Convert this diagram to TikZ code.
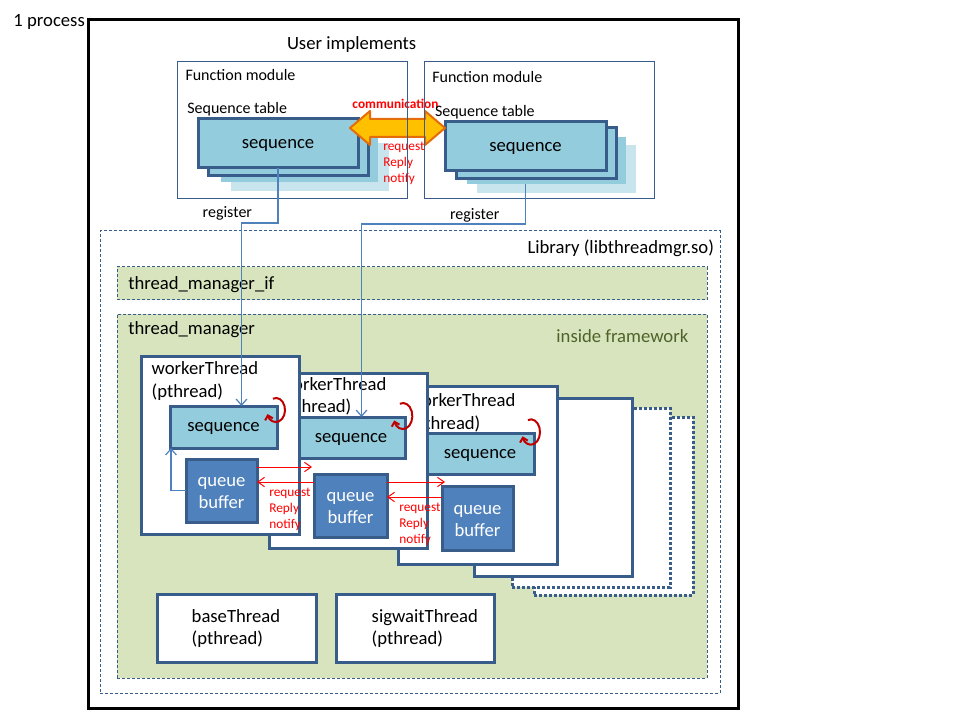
\documentclass[tikz,border=0pt]{standalone}
\usepackage{fontspec}
\setmainfont{Carlito}
\usetikzlibrary{arrows.meta,calc}
\definecolor{bd}{HTML}{385D8A}
\definecolor{seqfill}{HTML}{93CDDD}
\definecolor{seqlight}{HTML}{C8E5EE}
\definecolor{qbfill}{HTML}{4F81BD}
\definecolor{libgreen}{HTML}{D7E4BD}
\definecolor{linkblue}{HTML}{4F81BD}
\definecolor{olive}{HTML}{4F6228}
\definecolor{arrfill}{HTML}{FFC000}
\definecolor{arrdraw}{HTML}{E46C0A}
\definecolor{loopred}{HTML}{C00000}
\definecolor{msgred}{HTML}{FF0000}
\newcommand{\pxbox}[7]{\node[#2,anchor=north west,inner sep=0pt,outer sep=0pt,minimum width={(#5-#3)*0.75pt},minimum height={(#6-#4)*0.75pt}] (#1) at (#3,#4) {#7};}
\tikzset{
  f14/.style={font=\fontsize{14}{16.5}\selectfont},
  f12/.style={font=\fontsize{12}{14}\selectfont},
  f10/.style={font=\fontsize{10}{12}\selectfont},
  txt/.style={inner sep=0pt,outer sep=0pt},
  procbox/.style={draw=black,line width=2.25pt},
  fmbox/.style={draw=bd,line width=0.75pt},
  seqbox/.style={draw=bd,fill=seqfill,line width=2.25pt,f14,text height=10.5pt,text depth=3.5pt},
  seqmid/.style={fill=seqfill},
  seqlt/.style={fill=seqlight},
  libbox/.style={draw=bd,line width=0.75pt,dash pattern=on 2.25pt off 1.5pt},
  greenbox/.style={draw=bd,fill=libgreen,line width=0.75pt,dash pattern=on 2.25pt off 1.5pt},
  wtbox/.style={draw=bd,fill=white,line width=2.25pt},
  dotbox/.style={draw=bd,fill=white,line width=2.25pt,dash pattern=on 2.25pt off 1.5pt},
  qbox/.style={draw=bd,fill=qbfill,line width=2.25pt},
  qtext/.style={txt,f14,text=white,align=center,yshift=-2pt},
  reglink/.style={draw=linkblue,line width=0.9pt,-{Straight Barb[length=4.5pt,width=8pt]}},
  msg/.style={draw=msgred,line width=0.75pt,-{Straight Barb[length=5pt,width=7pt]}},
  msglbl/.style={txt,f10,text=msgred,anchor=base west},
  loopa/.style={draw=loopred,line width=1.5pt,-{Straight Barb[length=3pt,width=6pt]}},
  comm/.style={fill=arrfill,draw=arrdraw,line width=1.5pt,line join=round},
}
\begin{document}
\begin{tikzpicture}[x=0.75pt,y=-0.75pt]
\useasboundingbox (0,0) rectangle (960,720);

% process
\pxbox{proc}{procbox}{88}{20}{738}{708}{}
\node[txt,f14,anchor=base west] (tproc) at (13.5,26.5) {1 process};
\node[txt,f14,anchor=base west] (tuser) at (287,49.3) {User implements};

% Sequence stacks (left)
\pxbox{seqL4}{seqlt}{231}{143}{389}{191}{}
\pxbox{seqL3}{seqmid}{221}{137}{378}{182}{}
\pxbox{seqL2}{seqbox}{208}{128}{368}{176}{}
\pxbox{seqL1}{seqbox}{198}{119}{358}{168}{sequence}
% Sequence stacks (right)
\pxbox{seqR4}{seqlt}{477}{145}{636}{193}{}
\pxbox{seqR3}{seqmid}{467}{137}{626}{184}{}
\pxbox{seqR2}{seqbox}{456}{128}{616}{179}{}
\pxbox{seqR1}{seqbox}{445}{122}{606}{171}{sequence}

% communication arrow
\draw[comm] (350,128) -- (370,111) -- (370,119) -- (425,119) -- (425,111) -- (445,128)
  -- (425,145) -- (425,137) -- (370,137) -- (370,145) -- cycle;
\node[txt,font=\fontsize{10}{12}\selectfont\bfseries,text=msgred,anchor=base] (tcomm) at (395.5,108.8) {communication};
\node[msglbl] (c1) at (383.3,150.3) {request};
\node[msglbl] (c2) at (383.3,166.3) {Reply};
\node[msglbl] (c3) at (383.3,182.3) {notify};

% Function modules
\pxbox{fm1}{fmbox}{177}{62}{407}{199}{}
\pxbox{fm2}{fmbox}{424}{62}{654}{199}{}
\node[txt,f12,anchor=base west] (tfm1) at (185.5,80.5) {Function module};
\node[txt,f12,anchor=base west] (tfm2) at (432.3,82.2) {Function module};
\node[txt,f12,anchor=base west] (tst1) at (187.3,114) {Sequence table};
\node[txt,f12,anchor=base west] (tst2) at (435,116.7) {Sequence table};
\node[txt,f12,anchor=base west] (treg1) at (202.7,218) {register};
\node[txt,f12,anchor=base west] (treg2) at (450,219.7) {register};

% Library
\pxbox{lib}{libbox}{100}{231}{720}{693}{}
\node[txt,f14,anchor=base east] (tlib) at (714,254) {Library (libthreadmgr.so)};
\pxbox{tmif}{greenbox}{117}{267}{707}{300}{}
\node[txt,f14,anchor=base west] (ttmif) at (128.3,289.5) {thread\_manager\_if};
\pxbox{tm}{greenbox}{117}{314}{707}{678}{}
\node[txt,f14,anchor=base west] (ttm) at (128.3,334.5) {thread\_manager};
\node[txt,f14,anchor=base east,text=olive] (tinside) at (688.3,342) {inside framework};

% worker threads (back to front)
\pxbox{d2}{dotbox}{534}{417}{693}{595}{}
\pxbox{d1}{dotbox}{512}{408}{670}{587}{}
\pxbox{wt4}{wtbox}{474}{398}{632}{576}{}

\pxbox{wt3}{wtbox}{398}{386}{557}{564}{}
\node[txt,f14,anchor=base west] (wt3a) at (409,406.5) {workerThread};
\node[txt,f14,anchor=base west] (wt3b) at (409,429.8) {(pthread)};
\pxbox{wseq3}{seqbox}{426}{433}{534}{474}{sequence}
\pxbox{qb3}{qbox}{442}{486}{513}{550}{}
\node[qtext] (qt3) at (qb3.center) {queue\\buffer};

\pxbox{wt2}{wtbox}{269}{373}{427}{548}{}
\node[txt,f14,anchor=base west] (wt2a) at (280,390) {workerThread};
\node[txt,f14,anchor=base west] (wt2b) at (280,412.5) {(pthread)};
\pxbox{wseq2}{seqbox}{297}{417}{405}{458}{sequence}
\pxbox{qb2}{qbox}{314}{474}{387}{537}{}
\node[qtext] (qt2) at (qb2.center) {queue\\buffer};

\pxbox{wt1}{wtbox}{141}{356}{299}{534}{}
\node[txt,f14,anchor=base west] (wt1a) at (151.7,374.5) {workerThread};
\node[txt,f14,anchor=base west] (wt1b) at (151.7,397) {(pthread)};
\pxbox{wseq1}{seqbox}{170}{406}{277}{448}{sequence}
\pxbox{qb1}{qbox}{186}{459}{257}{522}{}
\node[qtext] (qt1) at (qb1.center) {queue\\buffer};

% self loops
\coordinate (lc1) at (276,410);
\coordinate (lc2) at (403,416);
\coordinate (lc3) at (531,432);
\draw[loopa] ([shift={(110:6.75pt and 9pt)}]lc1) arc[start angle=110,end angle=-160,x radius=6.75pt,y radius=9pt];
\draw[loopa] ([shift={(110:7pt and 9.75pt)}]lc2) arc[start angle=110,end angle=-160,x radius=7pt,y radius=9.75pt];
\draw[loopa] ([shift={(110:6.75pt and 9.5pt)}]lc3) arc[start angle=110,end angle=-160,x radius=6.75pt,y radius=9.5pt];

% feedback in worker 1
\draw[reglink] (qb1.west) -| ([xshift=0.75pt]wseq1.south west);

% register links
\coordinate (regL) at (241.5,223);
\coordinate (regR) at (361.5,224);
\draw[reglink] (seqL1.south) |- (regL) -- (regL |- wseq1.north);
\draw[reglink] (seqR3.south -| seqR1.south) |- (regR) -- (regR |- wseq2.north);

% messages between queue buffers
\coordinate (m1s) at ($(qb1.north east)+(0,8)$);
\coordinate (m1e) at ($(qb2.north west)+(-2,8)$);
\draw[msg] (m1s) -- (m1s -| m1e);
\coordinate (m2s) at ($(qb2.north west)+(0,8)$);
\draw[msg] (m2s) -- (m2s -| qb1.east);
\coordinate (m3s) at ($(qb2.north east)+(0,8)$);
\coordinate (m3e) at ($(qb3.north west)+(3,0)$);
\draw[msg] (m3s) -- (m3s -| m3e);
\coordinate (m4s) at ($(qb3.north west)+(0,11)$);
\draw[msg] (m4s) -- (m4s -| qb2.east);
\node[msglbl] (r1) at (269.3,496) {request};
\node[msglbl] (r2) at (269.3,512) {Reply};
\node[msglbl] (r3) at (269.3,528) {notify};
\node[msglbl] (s1) at (399.3,511.2) {request};
\node[msglbl] (s2) at (399.3,527.2) {Reply};
\node[msglbl] (s3) at (399.3,543.2) {notify};

% base / sigwait
\pxbox{base}{wtbox}{157}{594}{316}{662}{}
\node[txt,f14,anchor=base west] (tb1) at (191.7,622.2) {baseThread};
\node[txt,f14,anchor=base west] (tb2) at (191.7,644.2) {(pthread)};
\pxbox{sigw}{wtbox}{336}{594}{494}{662}{}
\node[txt,f14,anchor=base west] (ts1) at (371.7,622.2) {sigwaitThread};
\node[txt,f14,anchor=base west] (ts2) at (371.7,644.2) {(pthread)};
\end{tikzpicture}
\end{document}
